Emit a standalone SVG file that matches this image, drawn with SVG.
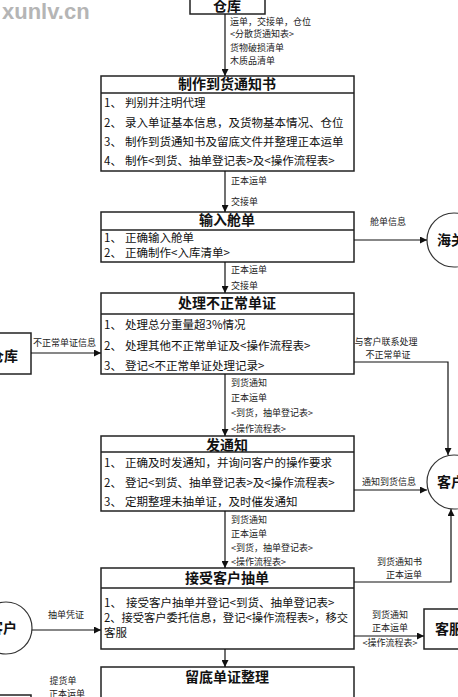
<svg xmlns="http://www.w3.org/2000/svg" width="458" height="697" viewBox="0 0 458 697">
<style>
.box{fill:#fff;stroke:#222;stroke-width:1.5}
.sep{stroke:#222;stroke-width:1.5}
.ttl{font-family:"Noto Sans CJK SC","Noto Sans",sans-serif;font-size:14px;font-weight:bold;fill:#111;text-anchor:middle}
.it{font-family:"Noto Sans CJK SC","Noto Sans",sans-serif;font-size:11.5px;fill:#111}
.lb{font-family:"Noto Sans CJK SC","Noto Sans",sans-serif;font-size:9px;fill:#222}
.cn{fill:none;stroke:#111;stroke-width:1.2}
.circ{fill:#fff;stroke:#333;stroke-width:1.2}
.wm{font-family:"Liberation Sans",Arial,sans-serif;font-size:22px;font-weight:bold;fill:#b5b5b5}
</style>
<defs>
<marker id="ah" viewBox="0 0 8 8" refX="8" refY="4" markerWidth="7" markerHeight="7" orient="auto" markerUnits="userSpaceOnUse">
<path d="M0,0 L8,4 L0,8 z" fill="#111"/>
</marker>
</defs>
<rect width="458" height="697" fill="#fff"/>
<text class="wm" x="2" y="19">xunlv.cn</text>

<g id="warehouse-top">
<rect class="box" x="190" y="-4" width="75" height="18"/>
<text class="ttl" x="227" y="11">仓库</text>
</g>

<g id="n1">
<rect class="box" x="101" y="76" width="253" height="95"/>
<line class="sep" x1="101" y1="93" x2="354" y2="93"/>
<text class="ttl" x="227" y="89">制作到货通知书</text>
<text class="it" x="104" y="107">1、</text><text class="it" x="125" y="107">判别并注明代理</text>
<text class="it" x="104" y="127">2、</text><text class="it" x="125" y="127">录入单证基本信息，及货物基本情况、仓位</text>
<text class="it" x="104" y="146">3、</text><text class="it" x="125" y="146">制作到货通知书及留底文件并整理正本运单</text>
<text class="it" x="104" y="165">4、</text><text class="it" x="125" y="165">制作&lt;到货、抽单登记表&gt;及&lt;操作流程表&gt;</text>
</g>

<g id="n2">
<rect class="box" x="101" y="212" width="253" height="50"/>
<line class="sep" x1="101" y1="230" x2="354" y2="230"/>
<text class="ttl" x="227" y="225">输入舱单</text>
<text class="it" x="104" y="242">1、</text><text class="it" x="125" y="242">正确输入舱单</text>
<text class="it" x="104" y="257">2、</text><text class="it" x="125" y="257">正确制作&lt;入库清单&gt;</text>
</g>

<g id="customs">
<circle class="circ" cx="454" cy="240" r="27"/>
<text class="ttl" x="437" y="245" style="text-anchor:start">海关</text>
</g>

<g id="n3">
<rect class="box" x="101" y="293" width="253" height="81"/>
<line class="sep" x1="101" y1="314" x2="354" y2="314"/>
<text class="ttl" x="227" y="308">处理不正常单证</text>
<text class="it" x="104" y="329">1、</text><text class="it" x="125" y="329">处理总分重量超3%情况</text>
<text class="it" x="104" y="350">2、</text><text class="it" x="125" y="350">处理其他不正常单证及&lt;操作流程表&gt;</text>
<text class="it" x="104" y="370">3、</text><text class="it" x="125" y="370">登记&lt;不正常单证处理记录&gt;</text>
</g>

<g id="warehouse-left">
<rect class="box" x="-4" y="333" width="35" height="41"/>
<text class="ttl" x="-10" y="361" style="text-anchor:start">仓库</text>
</g>

<g id="n4">
<rect class="box" x="101" y="436" width="253" height="75"/>
<line class="sep" x1="101" y1="452" x2="354" y2="452"/>
<text class="ttl" x="227" y="450">发通知</text>
<text class="it" x="104" y="467">1、</text><text class="it" x="125" y="467">正确及时发通知，并询问客户的操作要求</text>
<text class="it" x="104" y="487">2、</text><text class="it" x="125" y="487">登记&lt;到货、抽单登记表&gt;及&lt;操作流程表&gt;</text>
<text class="it" x="104" y="506">3、</text><text class="it" x="125" y="506">定期整理未抽单证，及时催发通知</text>
</g>

<g id="customer-right">
<circle class="circ" cx="454" cy="482" r="27"/>
<text class="ttl" x="437" y="487" style="text-anchor:start">客户</text>
</g>

<g id="n5">
<rect class="box" x="101" y="568" width="253" height="81"/>
<line class="sep" x1="101" y1="588" x2="354" y2="588"/>
<text class="ttl" x="227" y="583">接受客户抽单</text>
<text class="it" x="104" y="607">1、</text><text class="it" x="126" y="607">接受客户抽单并登记&lt;到货、抽单登记表&gt;</text>
<text class="it" x="104" y="622" textLength="244" lengthAdjust="spacingAndGlyphs">2、接受客户委托信息，登记&lt;操作流程表&gt;，移交</text>
<text class="it" x="104" y="637">客服</text>
</g>

<g id="customer-left">
<circle class="circ" cx="6" cy="628" r="26"/>
<text class="ttl" x="-11" y="633" style="text-anchor:start">客户</text>
</g>

<g id="service">
<rect class="box" x="424" y="609" width="40" height="40"/>
<text class="ttl" x="435" y="634" style="text-anchor:start">客服</text>
</g>

<g id="n6">
<rect class="box" x="101" y="667" width="253" height="40"/>
<text class="ttl" x="227" y="682">留底单证整理</text>
</g>

<g id="warehouse-bottom">
<rect class="box" x="-4" y="695" width="35" height="20"/>
</g>

<g id="connectors">
<line class="cn" x1="225" y1="14" x2="225" y2="76" marker-end="url(#ah)"/>
<line class="cn" x1="225" y1="171" x2="225" y2="212" marker-end="url(#ah)"/>
<line class="cn" x1="354" y1="240" x2="427" y2="240" marker-end="url(#ah)"/>
<line class="cn" x1="225" y1="262" x2="225" y2="293" marker-end="url(#ah)"/>
<line class="cn" x1="31" y1="353" x2="101" y2="353" marker-end="url(#ah)"/>
<polyline class="cn" points="354,362 448,362 448,455" marker-end="url(#ah)"/>
<line class="cn" x1="225" y1="374" x2="225" y2="436" marker-end="url(#ah)"/>
<line class="cn" x1="354" y1="490" x2="427" y2="490" marker-end="url(#ah)"/>
<line class="cn" x1="225" y1="511" x2="225" y2="568" marker-end="url(#ah)"/>
<polyline class="cn" points="354,582 451,582 451,509" marker-end="url(#ah)"/>
<line class="cn" x1="32" y1="630" x2="101" y2="630" marker-end="url(#ah)"/>
<line class="cn" x1="354" y1="636" x2="424" y2="636" marker-end="url(#ah)"/>
<line class="cn" x1="225" y1="649" x2="225" y2="667" marker-end="url(#ah)"/>

<text class="lb" x="230" y="25">运单，交接单，仓位</text>
<text class="lb" x="230" y="37">&lt;分散货通知表&gt;</text>
<text class="lb" x="230" y="51">货物破损清单</text>
<text class="lb" x="230" y="64">木质品清单</text>

<text class="lb" x="231" y="184">正本运单</text>
<text class="lb" x="231" y="205">交接单</text>

<text class="lb" x="370" y="225">舱单信息</text>

<text class="lb" x="231" y="273">正本运单</text>
<text class="lb" x="231" y="289">交接单</text>

<text class="lb" x="33" y="346">不正常单证信息</text>
<text class="lb" x="386" y="345" text-anchor="middle">与客户联系处理</text>
<text class="lb" x="388" y="358" text-anchor="middle">不正常单证</text>

<text class="lb" x="231" y="386">到货通知</text>
<text class="lb" x="231" y="401">正本运单</text>
<text class="lb" x="231" y="416">&lt;到货，抽单登记表&gt;</text>
<text class="lb" x="231" y="432">&lt;操作流程表&gt;</text>

<text class="lb" x="362" y="485">通知到货信息</text>

<text class="lb" x="231" y="523">到货通知</text>
<text class="lb" x="231" y="537">正本运单</text>
<text class="lb" x="231" y="551">&lt;到货，抽单登记表&gt;</text>
<text class="lb" x="231" y="565">&lt;操作流程表&gt;</text>

<text class="lb" x="422" y="565" text-anchor="end">到货通知书</text>
<text class="lb" x="422" y="578" text-anchor="end">正本运单</text>

<text class="lb" x="48" y="618">抽单凭证</text>

<text class="lb" x="390" y="618" text-anchor="middle">到货通知</text>
<text class="lb" x="390" y="631" text-anchor="middle">正本运单</text>
<text class="lb" x="390" y="646" text-anchor="middle">&lt;操作流程表&gt;</text>

<text class="lb" x="63" y="684" text-anchor="middle" font-size="8.5">提货单</text>
<text class="lb" x="67" y="697" text-anchor="middle" font-size="8.5">正本运单</text>
</g>
</svg>
